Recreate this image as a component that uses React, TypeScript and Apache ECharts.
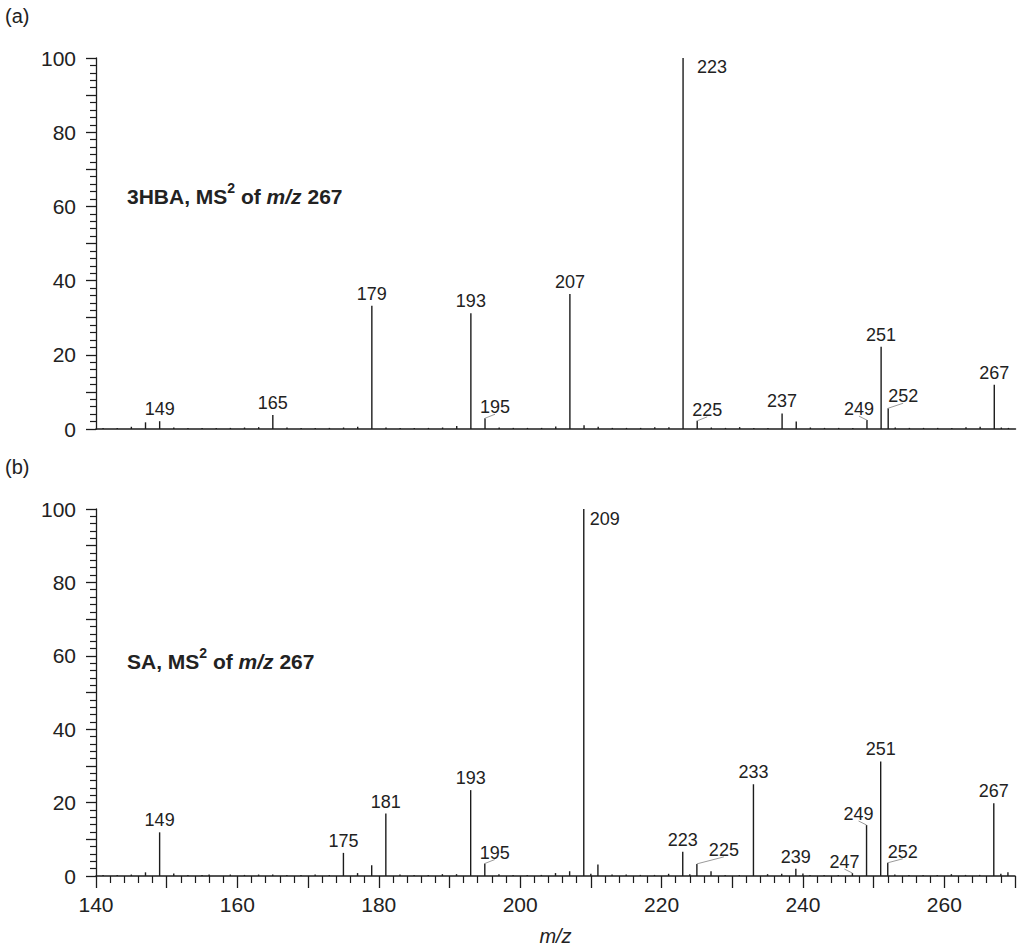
import React, { useEffect, useRef } from "react";
import * as echarts from "echarts";

// ---- Data ----
const xTickLabels = [140, 160, 180, 200, 220, 240, 260];

// Panel (a): 3HBA, MS2 of m/z 267
const mzA = [141, 143, 145, 147, 149, 151, 153, 155, 157, 159, 161, 163, 165, 167, 169, 171, 173, 175, 177, 179, 181, 183, 185, 187, 189, 191, 193, 195, 197, 199, 201, 203, 205, 207, 209, 211, 213, 215, 217, 219, 221, 223, 225, 227, 229, 231, 233, 235, 237, 239, 241, 243, 245, 247, 249, 251, 252, 253, 255, 257, 259, 261, 263, 265, 267, 268, 269];
const intA = [0.3, 0.3, 0.6, 1.8, 2.1, 0.4, 0.3, 0.3, 0.3, 0.3, 0.4, 0.5, 3.8, 0.4, 0.3, 0.3, 0.3, 0.4, 0.6, 33.2, 0.4, 0.3, 0.3, 0.3, 0.4, 0.8, 31.2, 2.9, 0.4, 0.3, 0.3, 0.3, 0.7, 36.4, 1.0, 0.6, 0.3, 0.3, 0.3, 0.5, 0.5, 100, 2.2, 0.4, 0.3, 0.5, 0.3, 0.3, 4.2, 2.0, 0.4, 0.3, 0.3, 0.3, 2.4, 22.2, 5.6, 0.4, 0.3, 0.3, 0.3, 0.3, 0.5, 0.6, 11.9, 0.4, 0.3];
const labeledA = [149, 165, 179, 193, 195, 207, 223, 225, 237, 249, 251, 252, 267];

// Panel (b): SA, MS2 of m/z 267
const mzB = [141, 143, 145, 147, 149, 151, 153, 155, 156, 159, 161, 163, 165, 167, 169, 171, 173, 175, 177, 179, 181, 183, 185, 187, 189, 191, 193, 195, 197, 199, 201, 203, 205, 207, 209, 210, 211, 213, 215, 217, 219, 221, 223, 224, 225, 227, 229, 231, 233, 235, 237, 239, 240, 241, 243, 245, 247, 249, 251, 252, 253, 255, 257, 259, 261, 263, 265, 267, 268, 269];
const intB = [0.3, 0.3, 0.4, 1.0, 11.9, 0.7, 0.3, 0.3, 0.4, 0.4, 0.3, 0.4, 0.4, 0.3, 0.3, 0.4, 0.3, 6.3, 0.8, 2.9, 17.0, 0.4, 0.3, 0.3, 0.5, 0.5, 23.4, 3.4, 0.5, 0.3, 0.3, 0.3, 0.8, 1.3, 100, 0.6, 3.1, 0.4, 0.4, 0.3, 0.3, 0.6, 6.6, 0.5, 3.3, 1.3, 0.3, 0.3, 25.0, 0.5, 0.6, 2.0, 0.7, 0.3, 0.3, 0.3, 0.8, 13.9, 31.2, 3.6, 0.4, 0.3, 0.3, 0.3, 0.5, 0.3, 0.3, 19.8, 0.6, 1.0];
const labeledB = [149, 175, 181, 193, 195, 209, 223, 225, 233, 239, 247, 249, 251, 252, 267];

// ---- Label placement (styling, px offsets from the peak top) ----
const labelOffsetsA: Record<number, [number, number, boolean]> = {
  223: [29, 9, false],
  195: [10, -11, true],
  225: [10, -11, true],
  249: [-8, -11, true],
  252: [15, -12, true],
};
const labelOffsetsB: Record<number, [number, number, boolean]> = {
  209: [21, 10, false],
  195: [10, -11, true],
  225: [27, -14, true],
  247: [-8, -11, true],
  249: [-8, -11, true],
  252: [15, -11, true],
};

const FONT = "'Liberation Sans', Arial, Helvetica, sans-serif";
const INK = "#1c1c1c";

function stickSeries(mz: number[], ints: number[], idx: number) {
  return {
    type: "custom",
    xAxisIndex: idx,
    yAxisIndex: idx,
    silent: true,
    data: mz.map((m, i) => [m, ints[i]]),
    encode: { x: 0, y: 1 },
    renderItem: (_p: any, api: any) => {
      const x = api.value(0);
      const y = api.value(1);
      const p0 = api.coord([x, 0]);
      const p1 = api.coord([x, y]);
      return {
        type: "line",
        shape: { x1: p0[0], y1: p0[1], x2: p1[0], y2: p1[1] },
        style: { stroke: INK, lineWidth: 1.4 },
      };
    },
  };
}

function labelSeries(
  mz: number[],
  ints: number[],
  labeled: number[],
  offsets: Record<number, [number, number, boolean]>,
  idx: number
) {
  const data = labeled.map((m) => [m, ints[mz.indexOf(m)]]);
  return {
    type: "custom",
    xAxisIndex: idx,
    yAxisIndex: idx,
    silent: true,
    data,
    encode: { x: 0, y: 1 },
    renderItem: (_p: any, api: any) => {
      const m = api.value(0);
      const v = api.value(1);
      const top = api.coord([m, v]);
      const off = offsets[m] || [0, -12, false];
      const cx = top[0] + off[0];
      const cy = top[1] + off[1];
      const children: any[] = [
        {
          type: "text",
          x: cx,
          y: cy,
          style: {
            text: String(m),
            fill: "#222",
            fontSize: 18,
            fontFamily: FONT,
            align: "center",
            verticalAlign: "middle",
          },
        },
      ];
      if (off[2]) {
        children.push({
          type: "line",
          shape: { x1: top[0], y1: top[1], x2: cx, y2: cy + 7 },
          style: { stroke: "#9a9a9a", lineWidth: 1 },
        });
      }
      return { type: "group", children };
    },
  };
}

function yAxisCfg(idx: number) {
  return {
    type: "value",
    gridIndex: idx,
    min: 0,
    max: 100,
    interval: 10,
    axisLine: { show: true, lineStyle: { color: INK, width: 1.3 } },
    axisTick: { show: true, length: 10, lineStyle: { color: INK, width: 1.3 } },
    minorTick: { show: true, splitNumber: 5, length: 6, lineStyle: { color: INK, width: 1.2 } },
    axisLabel: {
      formatter: (v: number) => (v % 20 === 0 ? String(v) : ""),
      fontSize: 21,
      fontFamily: FONT,
      color: "#222",
      margin: 20,
    },
    splitLine: { show: false },
  };
}

function annotation(top: number, name: string) {
  const base = { fontSize: 21, fontWeight: "bold", fontFamily: FONT, fill: "#222", lineHeight: 26, verticalAlign: "bottom" };
  return {
    type: "text",
    left: 127,
    top,
    style: {
      text: `{b|${name}, MS}{sup|2}{b| of }{i|m/z}{b| 267}`,
      rich: {
        b: base,
        i: { ...base, fontStyle: "italic" },
        sup: { ...base, fontSize: 14, verticalAlign: "top" },
      },
    },
  };
}

export default function App() {
  const ref = useRef<HTMLDivElement>(null);
  useEffect(() => {
    if (!ref.current) return;
    const chart = echarts.init(ref.current, null, { renderer: "svg" });
    chart.setOption({
      animation: false,
      backgroundColor: "#ffffff",
      grid: [
        { left: 96, right: 2.5, top: 58, height: 371 },
        { left: 96, right: 2.5, top: 509, height: 371 },
      ],
      xAxis: [
        {
          type: "value",
          gridIndex: 0,
          min: 140,
          max: 270,
          axisLine: { show: true, lineStyle: { color: INK, width: 1.5 } },
          axisTick: { show: false },
          axisLabel: { show: false },
          splitLine: { show: false },
        },
        {
          type: "value",
          gridIndex: 1,
          min: 140,
          max: 270,
          interval: 10,
          axisLine: { show: true, lineStyle: { color: INK, width: 1.5 } },
          axisTick: { show: true, length: 12, lineStyle: { color: INK, width: 1.3 } },
          minorTick: { show: true, splitNumber: 5, length: 7, lineStyle: { color: INK, width: 1.2 } },
          axisLabel: {
            formatter: (v: number) => (xTickLabels.indexOf(v) >= 0 ? String(v) : ""),
            fontSize: 21,
            fontFamily: FONT,
            color: "#222",
            margin: 18,
          },
          splitLine: { show: false },
          name: "m/z",
          nameLocation: "middle",
          nameGap: 50,
          nameTextStyle: { fontSize: 20, fontStyle: "italic", fontFamily: FONT, color: "#222" },
        },
      ],
      yAxis: [yAxisCfg(0), yAxisCfg(1)],
      series: [
        stickSeries(mzA, intA, 0),
        labelSeries(mzA, intA, labeledA, labelOffsetsA, 0),
        stickSeries(mzB, intB, 1),
        labelSeries(mzB, intB, labeledB, labelOffsetsB, 1),
      ],
      graphic: [
        { type: "text", left: 5, top: 6, style: { text: "(a)", fontSize: 20, fontFamily: FONT, fill: "#222" } },
        { type: "text", left: 5, top: 457, style: { text: "(b)", fontSize: 20, fontFamily: FONT, fill: "#222" } },
        annotation(181, "3HBA"),
        annotation(646, "SA"),
      ],
    });
    return () => chart.dispose();
  }, []);
  return (
    <div
      ref={ref}
      style={{ position: "absolute", left: 0, top: 0, width: 1018, height: 947 }}
    />
  );
}
